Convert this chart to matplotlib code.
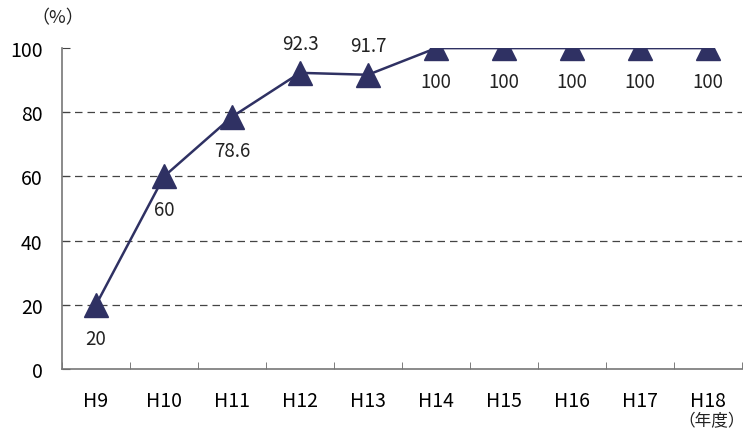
import matplotlib
matplotlib.use('Agg')
import matplotlib.pyplot as plt
import numpy as np

plt.rcParams['font.family'] = ['Noto Sans CJK JP', 'DejaVu Sans']

years = ['H9', 'H10', 'H11', 'H12', 'H13', 'H14', 'H15', 'H16', 'H17', 'H18']
rate = [20, 60, 78.6, 92.3, 91.7, 100, 100, 100, 100, 100]
labels = ['20', '60', '78.6', '92.3', '91.7', '100', '100', '100', '100', '100']
label_above = [False, False, False, True, True, False, False, False, False, False]

navy = '#2f3163'
x = np.arange(len(years))

fig = plt.figure(figsize=(7.45, 4.31), dpi=100)
ax = fig.add_axes([0.0832, 0.1415, 0.9128, 0.7445])

for v in [20, 40, 60, 80]:
    ax.axhline(v, color='#444444', lw=0.9, ls=(0, (6, 4)), zorder=1)

ax.plot(x, rate, color=navy, lw=1.8, marker='^', markersize=17,
        markerfacecolor=navy, markeredgecolor=navy, zorder=3)

for xi, v, t, up in zip(x, rate, labels, label_above):
    dy = 21 if up else -24
    ax.annotate(t, (xi, v), xytext=(0, dy), textcoords='offset points',
                ha='center', va='center', fontsize=13.5, color='#222222')

ax.set_xlim(-0.5, len(years) - 0.5)
ax.set_ylim(0, 100)
ax.set_yticks([0, 20, 40, 60, 80, 100])
ax.set_xticks(x)
ax.set_xticklabels(years)
ax.set_xticks(np.arange(len(years) + 1) - 0.5, minor=True)
ax.tick_params(axis='x', which='major', length=0, pad=15, labelsize=14)
ax.tick_params(axis='x', which='minor', direction='in', length=5, color='#666666')
ax.tick_params(axis='y', length=6, direction='in', color='#444444', labelsize=14, pad=14)

for s in ['top', 'right']:
    ax.spines[s].set_visible(False)
for s in ['left', 'bottom']:
    ax.spines[s].set_color('#777777')
    ax.spines[s].set_linewidth(1.2)

fig.text(0.077, 0.958, '（%）', fontsize=13, ha='center', va='center', color='#222222')
fig.text(0.955, 0.002, '（年度）', fontsize=12, ha='center', va='bottom', color='#222222')

fig.savefig('out.png', dpi=100)
